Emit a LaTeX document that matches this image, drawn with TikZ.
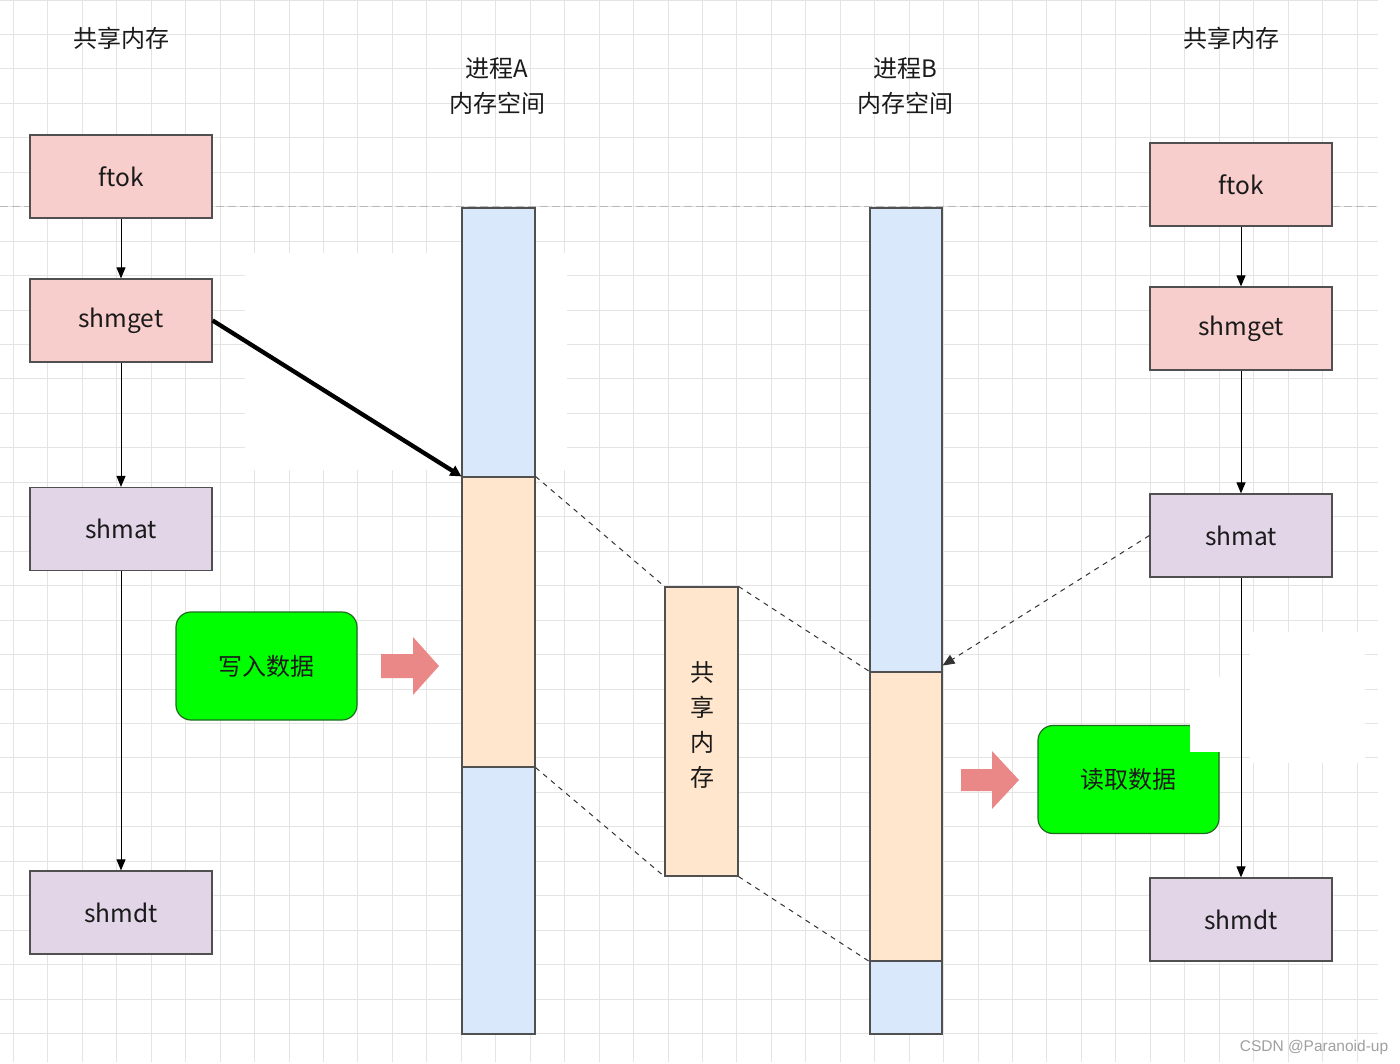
\documentclass[tikz,border=0pt]{standalone}
\usepackage{fontspec}
\setmainfont{Noto Sans CJK SC}
\newfontfamily\wmfont{Liberation Sans}
\usetikzlibrary{arrows.meta,calc}
\definecolor{gridc}{HTML}{E4E4E4}
\definecolor{pinkf}{HTML}{F8CECC}
\definecolor{purpf}{HTML}{E1D5E7}
\definecolor{bluef}{HTML}{DAE8FC}
\definecolor{oranf}{HTML}{FFE6CC}
\definecolor{greenf}{HTML}{00FF00}
\definecolor{greenedge}{HTML}{1F6B1F}
\definecolor{edgec}{HTML}{505050}
\definecolor{txtc}{HTML}{1A1A1A}
\definecolor{dashcol}{HTML}{333333}
\definecolor{arrowc}{HTML}{EA8888}
\definecolor{hdash}{HTML}{B8B8B8}
\definecolor{wmc}{HTML}{A0A0A0}
\begin{document}
\begin{tikzpicture}[x=1pt,y=-1pt,
  gridline/.style={draw=gridc, line width=0.9pt},
  fbox/.style={draw=edgec, line width=1.2pt, minimum width=182pt, minimum height=83pt, inner sep=0pt, font=\fontsize{24.5}{28}\selectfont, text=txtc},
  pinkbox/.style={fbox, fill=pinkf},
  purplebox/.style={fbox, fill=purpf},
  seg/.style={draw=edgec, line width=1.1pt, minimum width=73pt, inner sep=0pt},
  bluseg/.style={seg, fill=bluef},
  orseg/.style={seg, fill=oranf},
  flow/.style={draw=black, line width=1pt, -{Triangle[length=11pt,width=9pt]}},
  thickflow/.style={draw=black, line width=4.3pt, -{Triangle[length=11pt,width=11pt]}},
  dashlink/.style={draw=dashcol, line width=1pt, dash pattern=on 5pt off 5pt},
  dasharrow/.style={dashlink, -{Triangle[length=12pt,width=10pt]}},
  greenbox/.style={draw=greenedge, fill=greenf, line width=1.2pt, rounded corners=15pt, minimum width=181pt, minimum height=108pt, inner sep=0pt, font=\fontsize{24}{28}\selectfont, text=txtc},
  title/.style={font=\fontsize{24}{35}\selectfont, align=center, text=txtc, inner sep=0pt},
  patch/.style={fill=white, draw=none},
  blockarrow/.style={fill=arrowc, draw=none}
]
\useasboundingbox (0,0) rectangle (1400,1064);
\fill[white] (0,0) rectangle (1400,1064);
% grid
\foreach \i in {0,...,39} \draw[gridline] ({13.4+34.45*\i},0) -- ({13.4+34.45*\i},1062);
\foreach \j in {0,...,30} \draw[gridline] (0,{34.45*\j}) -- (1378,{34.45*\j});
\draw[hdash, line width=1pt, dash pattern=on 8pt off 4pt] (0,207) -- (1378,207);
% erased patch left
\fill[patch] (245,253) rectangle (567,470);
% green box right (partly erased)
\node[greenbox] (read) at (1128.5,779.5) {读取数据};
\fill[patch] (1250,632) rectangle (1365,763);
\fill[patch] (1190,677) rectangle (1365,752);
% titles
\node[title] (tl) at (121,38) {共享内存};
\node[title] (tr) at (1231,38) {共享内存};
\node[title] (ta) at (497,86.5) {进程A\\内存空间};
\node[title] (tb) at (905,86.5) {进程B\\内存空间};
% left column
\node[pinkbox] (lftok) at (121,176.5) {ftok};
\node[pinkbox] (lget) at (121,320.5) {shmget};
\node[purplebox] (lat) at (121,529) {shmat};
\node[purplebox] (ldt) at (121,912.5) {shmdt};
% right column
\node[pinkbox] (rftok) at (1241,184.5) {ftok};
\node[pinkbox] (rget) at (1241,328.5) {shmget};
\node[purplebox] (rat) at (1241,535.5) {shmat};
\node[purplebox] (rdt) at (1241,919.5) {shmdt};
% process A memory
\node[bluseg, minimum height=269pt] (a1) at (498.5,342.5) {};
\node[orseg, minimum height=290pt] (a2) at (498.5,622) {};
\node[bluseg, minimum height=267pt] (a3) at (498.5,900.5) {};
% process B memory
\node[bluseg, minimum width=72pt, minimum height=464pt] (b1) at (906,440) {};
\node[orseg, minimum width=72pt, minimum height=289pt] (b2) at (906,816.5) {};
\node[bluseg, minimum width=72pt, minimum height=73pt] (b3) at (906,997.5) {};
% shared memory
\node[orseg, minimum height=289pt] (shm) at (701.5,731.5) {};
\node[title] (shmtxt) at (702,724.5) {共\\享\\内\\存};
% write box
\node[greenbox] (write) at (266.5,666) {写入数据};
% block arrows
\fill[blockarrow] (381,654) -- (413,654) -- (413,637) -- (439,666) -- (413,695) -- (413,678) -- (381,678) -- cycle;
\fill[blockarrow] (961,769) -- (992,769) -- (992,751) -- (1019,780) -- (992,809) -- (992,791) -- (961,791) -- cycle;
% flow arrows
\draw[flow] (lftok) -- (lget);
\draw[flow] (lget) -- (lat);
\draw[flow] (lat) -- (ldt);
\draw[flow] (rftok) -- (rget);
\draw[flow] (rget) -- (rat);
\draw[flow] (rat) -- (rdt);
\draw[thickflow] (lget.east) -- (a2.north west);
% dashed mapping lines
\draw[dashlink] (a2.north east) -- (shm.north west);
\draw[dashlink] (shm.north east) -- (b2.north west);
\draw[dashlink] (a2.south east) -- (shm.south west);
\draw[dashlink] (shm.south east) -- (b2.south west);
\coordinate (bhit) at ($(b1.south east)+(0,-7)$);
\draw[dasharrow] (rat.west) -- (bhit);
% watermark
\node[font=\wmfont\fontsize{15.5}{18}\selectfont, text=wmc, inner sep=0pt] (wm) at (1314,1047) {CSDN @Paranoid-up};
\end{tikzpicture}
\end{document}
